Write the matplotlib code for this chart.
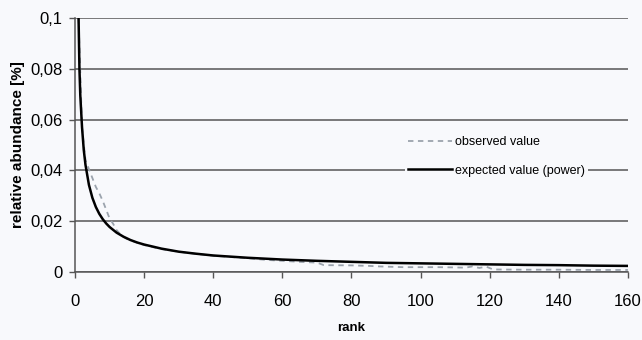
import matplotlib
matplotlib.use('Agg')
import matplotlib.pyplot as plt

plt.rcParams['font.family'] = ['Liberation Sans', 'DejaVu Sans']

# observed relative abundance
OBS_RANK = [1, 2, 3, 4, 5, 6, 7, 8, 9, 10, 11, 12, 13, 14, 15, 17, 20, 25, 30, 35,
            40, 45, 50, 55, 60, 65, 70, 72, 80, 85, 88, 95, 100, 105, 110, 113,
            115, 117, 119, 121, 130, 140, 150, 160]
OBS_VAL = [0.1, 0.057, 0.044, 0.0405, 0.037, 0.0335, 0.031, 0.028, 0.0245, 0.021,
           0.019, 0.0165, 0.015, 0.0138, 0.013, 0.012, 0.0106, 0.009, 0.008, 0.0071,
           0.0064, 0.0059, 0.0054, 0.0048, 0.0044, 0.004, 0.0037, 0.0027, 0.0026,
           0.0024, 0.0022, 0.0019, 0.0019, 0.0019, 0.0018, 0.0017, 0.0022, 0.0016,
           0.0021, 0.001, 0.0009, 0.0009, 0.0008, 0.0008]

# expected value (power fit)
EXP_RANK = [1, 1.25, 1.5, 2, 2.5, 3, 4, 5, 6, 7, 8, 9, 10, 12, 14, 16, 18, 20, 25, 30,
            35, 40, 50, 60, 70, 80, 90, 100, 110, 120, 130, 140, 150, 160]
EXP_VAL = [0.1, 0.080, 0.0695, 0.057, 0.0481, 0.0422, 0.0343, 0.0292, 0.0256, 0.0229,
           0.0208, 0.0191, 0.0177, 0.0155, 0.0139, 0.0126, 0.0116, 0.0108, 0.0092,
           0.0080, 0.0072, 0.0065, 0.0056, 0.0049, 0.0044, 0.0040, 0.0036, 0.0034,
           0.0032, 0.0030, 0.0028, 0.0027, 0.0025, 0.0024]

Y_TICKS = [0, 0.02, 0.04, 0.06, 0.08, 0.1]
Y_LABELS = ['0', '0,02', '0,04', '0,06', '0,08', '0,1']
X_TICKS = [0, 20, 40, 60, 80, 100, 120, 140, 160]

BG = '#f8f9fc'
GRID = '#555555'

fig = plt.figure(figsize=(6.42, 3.40), dpi=100, facecolor=BG)
ax = fig.add_axes([0.117, 0.2, 0.861, 0.747], facecolor=BG)

ax.plot(OBS_RANK, OBS_VAL, color='#9ba3ad', lw=1.3, dashes=(3, 2.5),
        label='observed value', zorder=3)
ax.plot(EXP_RANK, EXP_VAL, color='black', lw=1.8, label='expected value (power)', zorder=4)

ax.set_xlim(0, 160)
ax.set_ylim(0, 0.1)
ax.set_yticks(Y_TICKS)
ax.set_yticklabels(Y_LABELS)
ax.set_xticks(X_TICKS)

ax.grid(axis='y', color=GRID, lw=1.1)
ax.set_axisbelow(True)
for s in ['top', 'right']:
    ax.spines[s].set_visible(False)
for s in ['left', 'bottom']:
    ax.spines[s].set_color(GRID)
    ax.spines[s].set_linewidth(1.1)

ax.tick_params(axis='y', length=4, width=1, color=GRID, labelsize=12, pad=5)
ax.tick_params(axis='x', length=4, width=1, color=GRID, labelsize=12, pad=12)

ax.set_xlabel('rank', fontsize=9.5, fontweight='bold', labelpad=9)
ax.set_ylabel('relative abundance [%]', fontsize=11, fontweight='bold', labelpad=4)

leg = ax.legend(loc='center left', bbox_to_anchor=(0.585, 0.455), fontsize=9,
                handlelength=3.5, handletextpad=0.2, labelspacing=1.3,
                borderpad=0.3, frameon=True, fancybox=False, framealpha=1)
leg.get_frame().set_facecolor(BG)
leg.get_frame().set_edgecolor('none')

fig.savefig('out.png', dpi=100, facecolor=BG)
